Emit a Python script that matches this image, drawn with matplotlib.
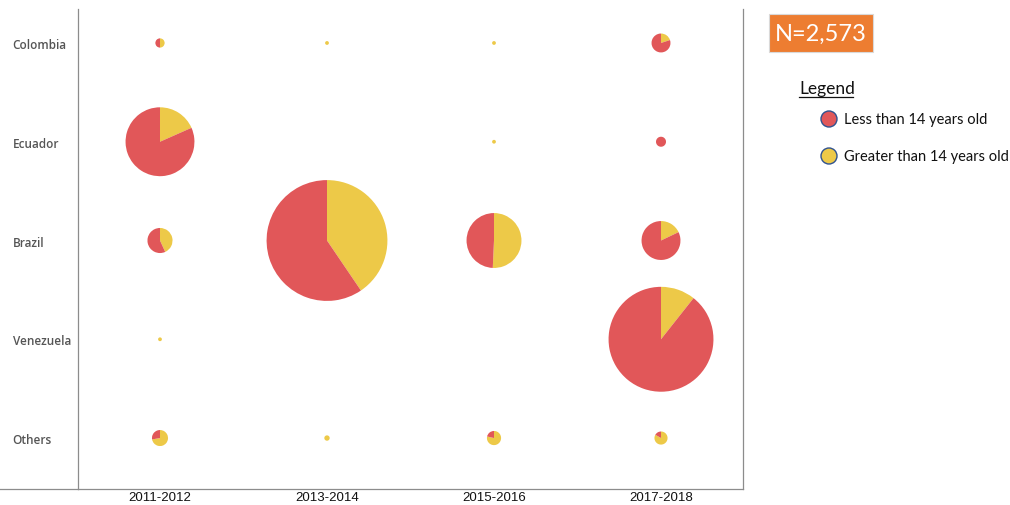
import matplotlib
matplotlib.use("Agg")
import matplotlib.pyplot as plt
import matplotlib.patches as mpatches
import matplotlib.transforms as mtransforms
from matplotlib.lines import Line2D
import numpy as np

# ---- data ----
countries = ["Colombia", "Ecuador", "Brazil", "Venezuela", "Others"]
periods = ["2011-2012", "2013-2014", "2015-2016", "2017-2018"]
# counts of children younger than 14 (rows = countries, cols = periods)
less_14 = [
    [3, 0, 0, 20],
    [271, 0, 0, 7],
    [25, 608, 104, 87],
    [0, 0, 0, 688],
    [5, 0, 3, 2],
]
# counts older than 14
greater_14 = [
    [3, 1, 1, 5],
    [61, 0, 1, 0],
    [19, 414, 107, 19],
    [1, 0, 0, 82],
    [13, 2, 11, 10],
]
legend_labels = ["Less than 14 years old", "Greater than 14 years old"]
total_label = "N=2,573"

RED = "#E15759"
YELLOW = "#EDC948"

W, H = 1010, 506
fig = plt.figure(figsize=(W / 100, H / 100), dpi=100)
ax = fig.add_axes([78 / W, 1 - 490 / H, (743 - 78) / W, (490 - 10) / H])
ax.set_xlim(-0.491, 3.491)
ax.set_ylim(4.516, -0.344)
ax.set_xticks(range(len(periods)))
ax.set_xticklabels(periods, fontsize=9.5, family="Liberation Sans", color="#111111")
ax.set_yticks(range(len(countries)))
ax.set_yticklabels(countries, fontsize=8.5, family="Open Sans", fontweight="semibold",
                   color="#555555", ha="left")
ax.tick_params(axis="both", length=0)
ax.tick_params(axis="x", pad=1.5)
ax.tick_params(axis="y", pad=47)
ax.spines["top"].set_visible(False)
for s in ["left", "right", "bottom"]:
    ax.spines[s].set_color("#8c8c8c")
    ax.spines[s].set_linewidth(0.9)

# line under the row header area
fig.add_artist(Line2D([0, 78 / W], [1 - 490 / H, 1 - 490 / H], transform=fig.transFigure,
                      color="#8c8c8c", lw=0.9))

px_per_sqrt = 1.89  # radius in pixels per sqrt(count)
for i in range(len(countries)):
    for j in range(len(periods)):
        lo, gr = less_14[i][j], greater_14[i][j]
        tot = lo + gr
        if tot == 0:
            continue
        r_in = px_per_sqrt * np.sqrt(tot) / 100.0
        trans = fig.dpi_scale_trans + mtransforms.ScaledTranslation(j, i, ax.transData)
        fy = gr / tot
        # Tableau order: start at 12 o'clock, clockwise; yellow first, then red
        if gr > 0:
            ax.add_patch(mpatches.Wedge((0, 0), r_in, 90 - fy * 360, 90, transform=trans,
                                        facecolor=YELLOW, edgecolor="none", clip_on=False))
        if lo > 0:
            ax.add_patch(mpatches.Wedge((0, 0), r_in, 90 - 360, 90 - fy * 360, transform=trans,
                                        facecolor=RED, edgecolor="none", clip_on=False))

# N box
fig.add_artist(mpatches.Rectangle((769 / W, 1 - 53 / H), (873 - 769) / W, (53 - 15) / H,
                                  transform=fig.transFigure, facecolor="#ED7D31",
                                  edgecolor="#d9d9d9", lw=0.8))
fig.text(821 / W, 1 - 34 / H, total_label, ha="center", va="center", color="white",
         fontsize=17, family="Lato")

# Legend
fig.text(799 / W, 1 - 89 / H, "Legend", ha="left", va="center", fontsize=12.5, family="Lato",
         color="#111111")
fig.add_artist(Line2D([799 / W, 853 / W], [1 - 98 / H, 1 - 98 / H], transform=fig.transFigure,
                      color="#111111", lw=0.9))
for k, (lab, col) in enumerate(zip(legend_labels, [RED, YELLOW])):
    y = 1 - (120 + 37 * k) / H
    fig.add_artist(mpatches.Ellipse((829 / W, y), 16 / W, 16 / H, transform=fig.transFigure,
                                    facecolor=col, edgecolor="#2F528F", lw=1.0))
    fig.text(844 / W, y, lab, ha="left", va="center", fontsize=10.5, family="Lato",
             color="#111111")

fig.savefig("out.png", dpi=100)
